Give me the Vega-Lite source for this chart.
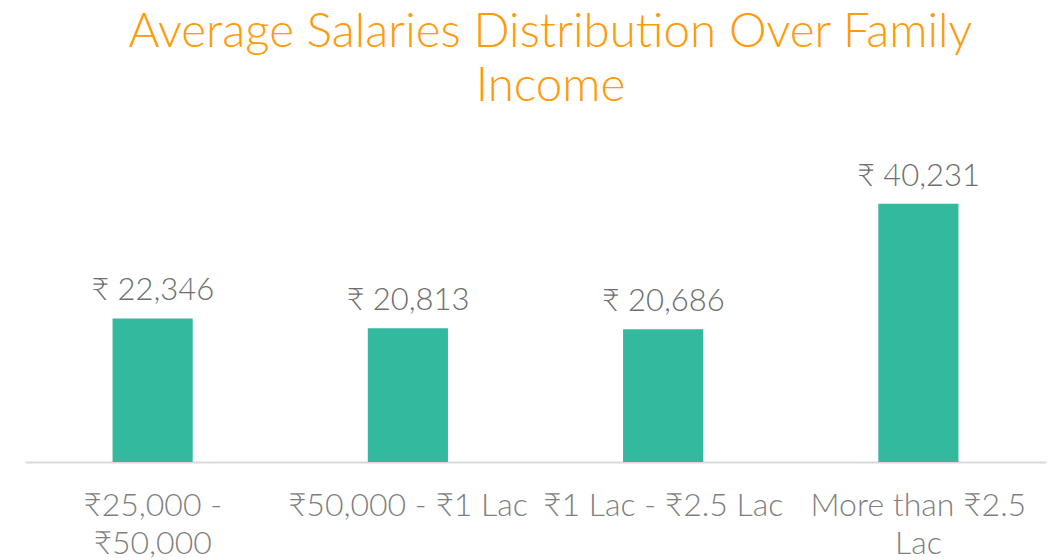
{
  "$schema": "https://vega.github.io/schema/vega-lite/v6.json",
  "width": 1021,
  "height": 289,
  "autosize": {"type": "none"},
  "padding": {"left": 25, "top": 173, "right": 15, "bottom": 98},
  "background": "white",
  "title": {
    "text": ["Average Salaries Distribution Over Family", "Income"],
    "font": "Lato",
    "fontWeight": 300,
    "fontSize": 47.5,
    "lineHeight": 54,
    "color": "#FF9A0A",
    "anchor": "middle",
    "frame": "group",
    "dx": 15,
    "offset": 50
  },
  "data": {
    "values": [
      {"category": "₹25,000 - ₹50,000", "salary": 22346},
      {"category": "₹50,000 - ₹1 Lac", "salary": 20813},
      {"category": "₹1 Lac - ₹2.5 Lac", "salary": 20686},
      {"category": "More than ₹2.5 Lac", "salary": 40231}
    ]
  },
  "transform": [
    {"calculate": "'₹ ' + format(datum.salary, ',')", "as": "label"}
  ],
  "encoding": {
    "x": {
      "field": "category",
      "type": "nominal",
      "sort": null,
      "scale": {"paddingInner": 0.686, "paddingOuter": 0.343},
      "axis": {
        "title": null,
        "ticks": false,
        "domainColor": "#D9D9D9",
        "domainWidth": 2,
        "labelAngle": 0,
        "labelFont": "Lato",
        "labelFontWeight": 300,
        "labelFontSize": 32,
        "labelColor": "#7F7F7F",
        "labelLineHeight": 38,
        "labelPadding": 28,
        "labelLimit": 300,
        "labelExpr": "datum.label == '₹25,000 - ₹50,000' ? ['₹25,000 -', '₹50,000'] : datum.label == 'More than ₹2.5 Lac' ? ['More than ₹2.5', 'Lac'] : datum.label"
      }
    },
    "y": {
      "field": "salary",
      "type": "quantitative",
      "scale": {"domain": [0, 45000]},
      "axis": null
    }
  },
  "layer": [
    {"mark": {"type": "bar", "color": "#33B99E"}},
    {
      "mark": {
        "type": "text",
        "baseline": "bottom",
        "dy": -11,
        "font": "Lato",
        "fontWeight": 300,
        "fontSize": 31,
        "color": "#6E6E6E"
      },
      "encoding": {"text": {"field": "label"}}
    }
  ],
  "config": {"view": {"stroke": null}}
}
